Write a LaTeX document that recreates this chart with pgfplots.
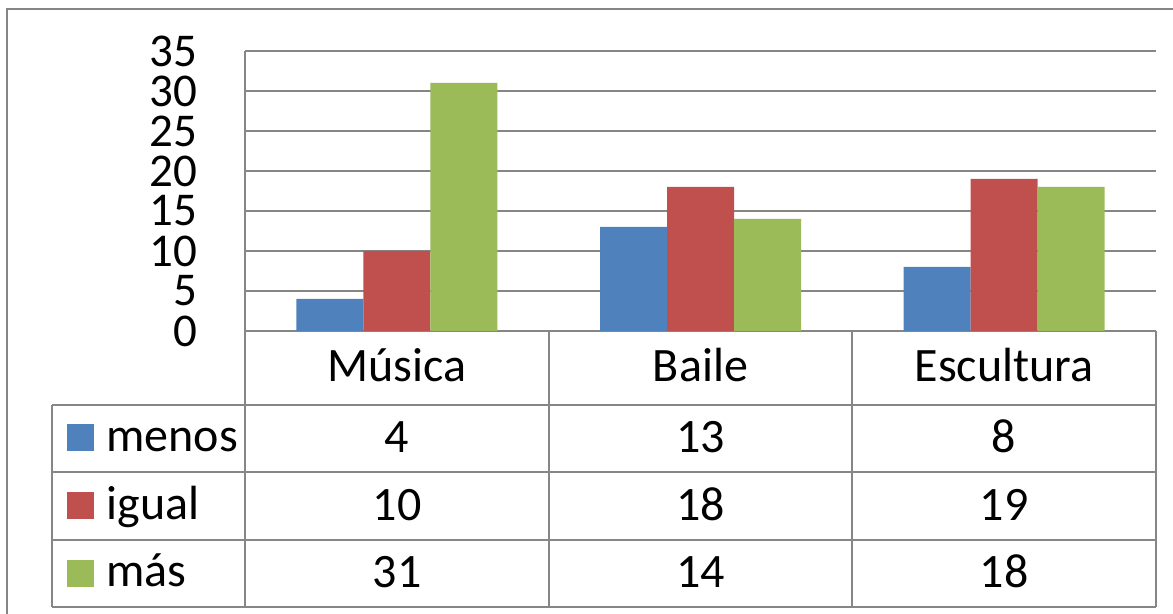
\documentclass[border=0pt]{standalone}
\usepackage{fontspec}
\setmainfont{Carlito}
\usepackage{pgfplots}
\pgfplotsset{compat=1.18}
\definecolor{cmenos}{HTML}{4F81BD}
\definecolor{cigual}{HTML}{C0504D}
\definecolor{cmas}{HTML}{9BBB59}
\definecolor{gridgray}{RGB}{134,134,134}

\begin{document}
\fontsize{24pt}{28pt}\selectfont
% picture coordinates in reference pixels: 1px = 0.5pt, y downwards
\begin{tikzpicture}[x=0.5pt,y=-0.5pt]
  \useasboundingbox (0,0) rectangle (1173,614);
  \draw[gridgray, line width=0.7pt] (7,9) rectangle (1200,640);

  \begin{axis}[
      at={(122.5pt,-165.5pt)}, anchor=south west,
      scale only axis, width=455.5pt, height=140pt,
      xmin=-0.5, xmax=2.5, ymin=0, ymax=35,
      xtick=\empty, ytick={0,5,...,35},
      ybar=0pt, bar width=33.5pt,
      axis x line*=bottom, axis y line*=left,
      axis line style={draw=gridgray, line width=0.7pt, -},
      ymajorgrids, grid style={gridgray, line width=0.7pt},
      major tick length=0pt,
      /pgf/number format/assume math mode=true,
      yticklabel style={anchor=east, inner sep=0pt, xshift=-23.5pt,
        font=\fontsize{23.5pt}{23.5pt}\selectfont},
    ]
    \addplot[fill=cmenos, draw=none] coordinates {(0,4) (1,13) (2,8)};
    \addplot[fill=cigual, draw=none] coordinates {(0,10) (1,18) (2,19)};
    \addplot[fill=cmas, draw=none] coordinates {(0,31) (1,14) (2,18)};
  \end{axis}

  % data table
  \begin{scope}[gridgray, line width=0.7pt]
    \draw (245,331) -- (245,607);
    \draw (549,331) -- (549,607);
    \draw (852,331) -- (852,607);
    \draw (1156,331) -- (1156,607);
    \draw (52,405) -- (1156,405);
    \draw (52,472) -- (1156,472);
    \draw (52,540) -- (1156,540);
    \draw (52,607) -- (1156,607);
    \draw (52,405) -- (52,607);
  \end{scope}

  \fill[cmenos] (67,424) rectangle (94,451);
  \fill[cigual] (67,492) rectangle (94,519);
  \fill[cmas] (67,560) rectangle (94,587);
  \node[anchor=base west, inner sep=0pt] at (106,452) {menos};
  \node[anchor=base west, inner sep=0pt] at (106,520) {igual};
  \node[anchor=base west, inner sep=0pt] at (106,587) {más};

  \node[anchor=base, inner sep=0pt] at (397,382) {Música};
  \node[anchor=base, inner sep=0pt] at (700.5,382) {Baile};
  \node[anchor=base, inner sep=0pt] at (1004,382) {Escultura};

  \node[anchor=base, inner sep=0pt] at (397,453) {4};
  \node[anchor=base, inner sep=0pt] at (700.5,453) {13};
  \node[anchor=base, inner sep=0pt] at (1004,453) {8};
  \node[anchor=base, inner sep=0pt] at (397,521) {10};
  \node[anchor=base, inner sep=0pt] at (700.5,521) {18};
  \node[anchor=base, inner sep=0pt] at (1004,521) {19};
  \node[anchor=base, inner sep=0pt] at (397,588) {31};
  \node[anchor=base, inner sep=0pt] at (700.5,588) {14};
  \node[anchor=base, inner sep=0pt] at (1004,588) {18};
\end{tikzpicture}
\end{document}
